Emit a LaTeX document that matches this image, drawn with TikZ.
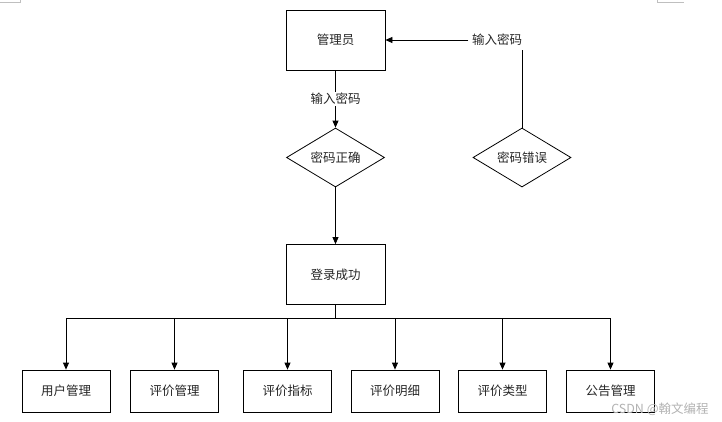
\documentclass[tikz,border=0pt]{standalone}
\usepackage{fontspec}
\setmainfont{Noto Sans CJK SC}
\usetikzlibrary{arrows.meta,shapes.geometric}
\begin{document}
\begin{tikzpicture}[x=1pt,y=-1pt,line width=0.8pt,
  >={Triangle[length=7pt,width=6pt]},
  every node/.style={font=\fontsize{12.5}{14}\selectfont,text=black!85},
  bigbox/.style={rectangle,draw=black,minimum width=99pt,minimum height=60pt},
  subbox/.style={rectangle,draw=black,minimum width=88pt,minimum height=42pt},
  check/.style={diamond,draw=black,aspect=1.7,inner sep=0.5pt,minimum width=98pt,minimum height=59pt}]
\useasboundingbox (0,0) rectangle (722,421);
% page corner marks
\draw[gray!50,line width=0.6pt] (0,2) -- (20,2) -- (20,0);
\draw[gray!50,line width=0.6pt] (657,0) -- (657,2) -- (684,2);
% login part
\node[bigbox] (admin) at (335.5,40) {管理员};
\node[check] (ok) at (335.5,157.5) {密码正确};
\node[check] (err) at (522,157.5) {密码错误};
\node[bigbox] (login) at (335.5,274.5) {登录成功};
\node (retry) at (497,40) {输入密码};
\draw[->] (admin) to node[fill=white,inner sep=1pt]{输入密码} (ok);
\draw (err.north) -- (err.north |- retry.south);
\draw[->] (retry.west) -- (admin.east);
\draw[->] (ok) -- (login);
% modules
\node[subbox] (user) at (66,391) {用户管理};
\node[subbox] (evalm) at (174.5,391) {评价管理};
\node[subbox] (index) at (287.5,391) {评价指标};
\node[subbox] (detail) at (395,391) {评价明细};
\node[subbox] (type) at (502.5,391) {评价类型};
\node[subbox] (notice) at (610.5,391) {公告管理};
\coordinate (bus) at (335.5,318);
\draw (login.south) -- (bus);
\draw (user.north |- bus) -- (notice.north |- bus);
\foreach \m in {user,evalm,index,detail,type,notice}
  \draw[->] (\m.north |- bus) -- (\m.north);
\node[anchor=east,inner sep=0pt,font=\fontsize{12.5}{14}\selectfont,text=gray!60] (mark) at (709,409) {CSDN @翰文编程};
\end{tikzpicture}
\end{document}
